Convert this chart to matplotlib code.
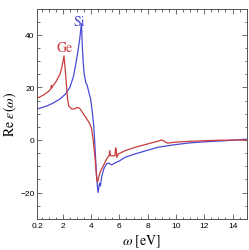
import matplotlib
matplotlib.use('Agg')
import matplotlib.pyplot as plt
from matplotlib.ticker import MultipleLocator, FixedLocator

# Re eps(omega) for Si (blue) and Ge (red)
siE = [0.2, 0.5, 0.9, 1.3, 1.8, 2.2, 2.5, 2.75, 2.9, 3.05, 3.2, 3.27, 3.32,
       3.38, 3.45, 3.52, 3.62, 3.73, 3.85, 3.97, 4.1, 4.18, 4.25, 4.35, 4.45,
       4.5, 4.56, 4.6, 4.66, 4.75, 4.9, 5.1, 5.25, 5.45, 5.7, 6.0, 6.4, 7.0,
       7.5, 8.0, 8.7, 9.3, 9.9, 11.0, 12.0, 13.4, 15.0]
siRe = [11.8, 12.3, 13.0, 14.0, 15.6, 17.5, 20.0, 24.0, 28.3, 33.0, 38.5, 42.0, 44.2,
        36.0, 29.0, 25.0, 22.0, 20.7, 18.0, 15.6, 10.0, 6.0, 0.0, -10.0, -18.0,
        -20.0, -17.5, -16.5, -17.5, -14.0, -11.0, -9.0, -8.8, -9.5, -8.7, -8.0, -6.6, -5.5,
        -4.7, -3.9, -2.8, -2.3, -1.8, -1.1, -0.7, -0.3, 0.3]

geE = [0.2, 0.6, 1.0, 1.15, 1.2, 1.23, 1.3, 1.5, 1.8, 1.95, 2.09, 2.2, 2.33,
       2.42, 2.63, 2.85, 3.0, 3.2, 3.45, 3.7, 3.92, 4.04, 4.15, 4.3, 4.4,
       4.47, 4.56, 4.7, 4.87, 5.1, 5.27, 5.33, 5.36, 5.42, 5.69, 5.73, 5.77,
       5.82, 5.93, 6.4, 7.1, 8.0, 8.7, 9.0, 9.2, 9.4, 10.0, 11.0, 12.0, 13.0, 15.0]
geRe = [15.9, 17.0, 18.5, 19.4, 20.8, 19.8, 20.6, 22.0, 25.0, 28.0, 32.0, 25.0, 16.0,
        13.0, 11.8, 11.8, 12.4, 12.0, 10.0, 8.0, 6.0, 4.2, 0.0, -8.0, -15.0,
        -16.0, -13.6, -11.5, -9.8, -7.2, -6.0, -4.0, -6.0, -6.0, -6.0, -3.0, -3.4,
        -6.6, -5.3, -4.1, -2.8, -1.5, -0.5, 0.0, -0.6, -1.2, -0.8, -0.5, -0.3, -0.1, 0.0]

xTicks = [0.2, 2, 4, 6, 8, 10, 12, 14]
xTickLabels = ['0.2', '2', '4', '6', '8', '10', '12', '14']

siColor = '#4a4ad6'
geColor = '#c83c3c'

plt.rcParams['mathtext.fontset'] = 'stix'

fig = plt.figure(figsize=(2.49, 2.51), dpi=100)
ax = fig.add_axes([37.3/249, 1 - 219.8/251, (246.7 - 37.3)/249, (219.8 - 9.6)/251])

ax.plot(siE, siRe, color=siColor, linewidth=0.9)
ax.plot(geE, geRe, color=geColor, linewidth=0.9)

ax.text(3.15, 45.3, 'Si', color=siColor, fontsize=10, family='STIXGeneral',
        ha='center', va='center')
ax.text(2.16, 35.4, 'Ge', color=geColor, fontsize=10, family='STIXGeneral',
        ha='center', va='center')

ax.set_xlim(0.2, 15)
ax.set_ylim(-30, 50)
ax.xaxis.set_major_locator(FixedLocator(xTicks))
ax.set_xticklabels(xTickLabels)
ax.xaxis.set_minor_locator(MultipleLocator(0.5))
ax.yaxis.set_major_locator(MultipleLocator(20))
ax.yaxis.set_minor_locator(MultipleLocator(5))

ax.tick_params(which='both', direction='in', top=True, right=True,
               color='#555555', width=0.6, labelsize=6, pad=2)
ax.tick_params(which='major', length=3.5)
ax.tick_params(which='minor', length=1.8)
for lbl in ax.get_xticklabels() + ax.get_yticklabels():
    lbl.set_family('Liberation Sans')
for sp in ax.spines.values():
    sp.set_color('#555555')
    sp.set_linewidth(0.7)

ax.set_xlabel(r'$\omega$ [eV]', family='STIXGeneral', fontsize=10, labelpad=3)
ax.set_ylabel(r'Re $\epsilon(\omega)$', family='STIXGeneral', fontsize=10, labelpad=1)

fig.savefig('out.png', dpi=100)
